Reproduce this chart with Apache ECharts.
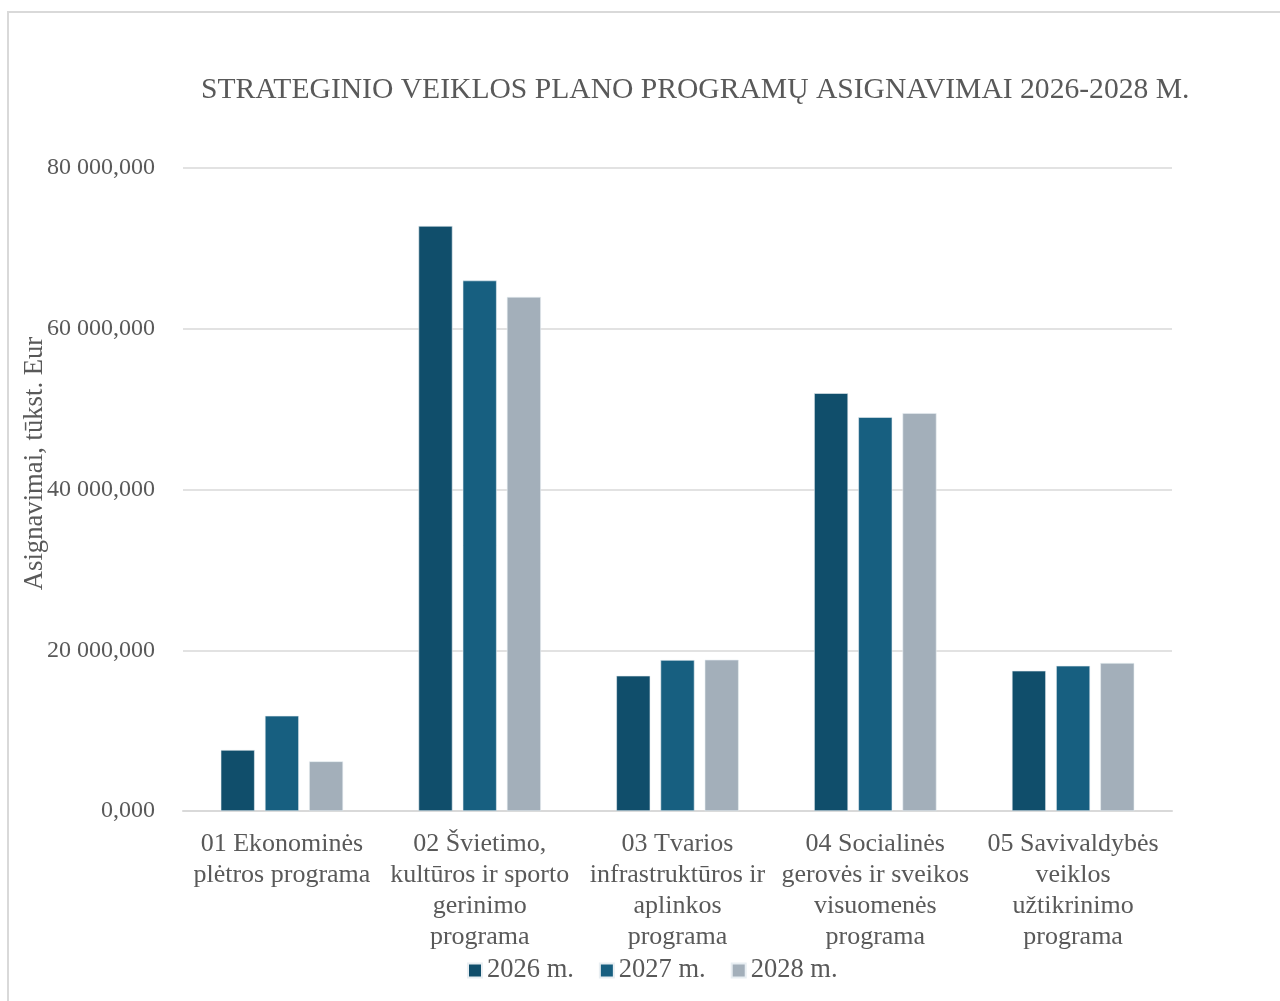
<!DOCTYPE html>
<html>
<head>
<meta charset="utf-8">
<script src="https://cdn.jsdelivr.net/npm/echarts@6/dist/echarts.min.js"></script>
<style>
  html, body { margin: 0; padding: 0; background: #fff; }
  #chart { width: 1280px; height: 1001px; }
</style>
</head>
<body>
<div id="chart"></div>
<script>
// 分类
const categories = [
  "01 Ekonominės\nplėtros programa",
  "02 Švietimo,\nkultūros ir sporto\ngerinimo\nprograma",
  "03 Tvarios\ninfrastruktūros ir\naplinkos\nprograma",
  "04 Socialinės\ngerovės ir sveikos\nvisuomenės\nprograma",
  "05 Savivaldybės\nveiklos\nužtikrinimo\nprograma",
];
// 各年度数据 (tūkst. Eur)
const y2026 = [7590, 72790, 16830, 51980, 17450];
const y2027 = [11850, 66000, 18780, 49000, 18070];
const y2028 = [6180, 63960, 18820, 49500, 18410];
const seriesNames = ["2026 m.", "2027 m.", "2028 m."];
const yTicks = [0, 20000, 40000, 60000, 80000];

const font = "'Liberation Serif', 'DejaVu Serif', serif";
const textColor = "#595959";

// 数字格式: 80 000,000
function fmt(v) {
  const parts = v.toFixed(3).split(".");
  const intPart = parts[0].replace(/\B(?=(\d{3})+(?!\d))/g, " ");
  return intPart + "," + parts[1];
}

const myChart = echarts.init(document.querySelector("#chart"));
const colors = ["#104e6b", "#175f80", "#a3afba"];
const option = {
  color: colors,
  textStyle: { fontFamily: font },
  graphic: [
    {
      type: "rect",
      shape: { x: 8, y: 12, width: 1300, height: 1020 },
      style: { fill: "none", stroke: "#d9d9d9", lineWidth: 2 },
      silent: true,
    },
  ],
  title: {
    text: "STRATEGINIO VEIKLOS PLANO PROGRAMŲ ASIGNAVIMAI 2026-2028 M.",
    left: 196,
    top: 70,
    textStyle: {
      fontFamily: font,
      fontSize: 29.6,
      fontWeight: "normal",
      color: textColor,
    },
  },
  grid: {
    left: 183,
    right: 108,
    top: 168,
    bottom: 190,
    containLabel: false,
  },
  legend: {
    bottom: 12,
    left: 462,
    itemWidth: 14,
    itemHeight: 14,
    itemGap: 25,
    icon: "rect",
    textStyle: { fontFamily: font, fontSize: 26.5, color: textColor },
    data: seriesNames,
  },
  xAxis: {
    type: "category",
    data: categories,
    axisLine: { lineStyle: { color: "#d9d9d9", width: 2 } },
    axisTick: { show: false },
    axisLabel: {
      interval: 0,
      margin: 18,
      fontFamily: font,
      fontSize: 26,
      lineHeight: 31,
      color: textColor,
    },
  },
  yAxis: {
    type: "value",
    min: 0,
    max: 80000,
    interval: 20000,
    name: "Asignavimai, tūkst. Eur",
    nameLocation: "middle",
    nameGap: 135,
    nameMoveOverlap: false,
    nameTextStyle: {
      fontFamily: font,
      fontSize: 26.7,
      color: textColor,
      padding: [0, 0, 0, 52],
    },
    axisLine: { show: false },
    axisTick: { show: false },
    splitLine: { lineStyle: { color: "#d9d9d9", width: 1.5 } },
    axisLabel: {
      margin: 28,
      fontFamily: font,
      fontSize: 24,
      color: textColor,
      formatter: (v) => (yTicks.includes(v) ? fmt(v) : ""),
    },
  },
  series: [y2026, y2027, y2028].map((d, i) => ({
    name: seriesNames[i],
    type: "bar",
    data: d,
    barWidth: 34,
    barGap: "30%",
    itemStyle: { borderColor: "#e8eef2", borderWidth: 0.6 },
  })),
};
myChart.setOption(option);
</script>
</body>
</html>
